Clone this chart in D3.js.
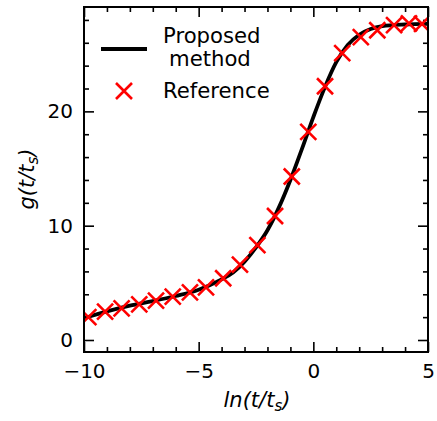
<!DOCTYPE html>
<html><head><meta charset="utf-8">
<script src="https://cdn.jsdelivr.net/npm/d3@7"></script>
<style>body{margin:0;background:#fff}svg{display:block}text{font-family:"DejaVu Sans",sans-serif}</style>
</head><body><svg id="c" width="437" height="421"></svg>
<script>
// Reference markers (x = ln(t/ts), y = g)
const refX = [-9.81,-9.08,-8.36,-7.59,-6.86,-6.13,-5.38,-4.68,-3.93,-3.20,-2.44,-1.67,-0.94,-0.22,0.51,1.26,2.07,2.79,3.52,4.17,4.74];
const refY = [2.0,2.48,2.77,3.12,3.44,3.79,4.17,4.6,5.4,6.6,8.3,10.85,14.3,18.2,22.2,25.1,26.5,27.1,27.55,27.7,27.65];
// Proposed method curve
const curveX = [-10,-9,-8,-7,-6,-5,-4,-3.5,-3,-2.5,-2,-1.5,-1,-0.5,0,0.5,1,1.5,2,2.5,3,4,5];
const curveY = [1.9,2.5,3.0,3.4,3.85,4.4,5.3,5.9,6.85,8.1,9.6,11.6,14.0,16.7,19.5,22.1,24.3,25.8,26.7,27.2,27.45,27.6,27.65];
const xTicks = [-10,-5,0,5];
const xMinor = [-9,-8,-7,-6,-4,-3,-2,-1,1,2,3,4];
const yTicks = [0,10,20];
const yMinor = [2,4,6,8,12,14,16,18,22,24,26,28];

const L=84,R=428,T=7,B=352;
const svg=d3.select("#c");
const x=d3.scaleLinear().domain([-10,5]).range([L,R]);
const y=d3.scaleLinear().domain([-1.05,29.13]).range([B,T]);
const fmt=d3.format("");

function ax(gen,tr,vals,size,pad,labels){
  const g=svg.append("g").attr("transform",tr)
   .call(gen.tickValues(vals).tickSize(size).tickPadding(pad).tickFormat(labels?fmt:""));
  g.select(".domain").remove();
  g.selectAll(".tick line").attr("stroke","#000").attr("stroke-width",1.6);
  g.selectAll("text").attr("font-size",20).attr("fill","#000").attr("font-family","DejaVu Sans");
  return g;
}
ax(d3.axisBottom(x),`translate(0,${B})`,xTicks,-10,12,true);
ax(d3.axisBottom(x),`translate(0,${B})`,xMinor,-5,12,false);
ax(d3.axisTop(x),`translate(0,${T})`,xTicks,-10,12,false);
ax(d3.axisTop(x),`translate(0,${T})`,xMinor,-5,12,false);
ax(d3.axisLeft(y),`translate(${L},0)`,yTicks,-10,11,true);
ax(d3.axisLeft(y),`translate(${L},0)`,yMinor,-5,11,false);
ax(d3.axisRight(y),`translate(${R},0)`,yTicks,-10,11,false);
ax(d3.axisRight(y),`translate(${R},0)`,yMinor,-5,11,false);

svg.append("clipPath").attr("id","cp").append("rect").attr("x",L).attr("y",T).attr("width",R-L).attr("height",B-T);

// curve
svg.append("path").datum(curveX.map((v,i)=>[v,curveY[i]]))
 .attr("d",d3.line().x(d=>x(d[0])).y(d=>y(d[1])).curve(d3.curveMonotoneX))
 .attr("fill","none").attr("stroke","#000").attr("stroke-width",3.8);

// markers
const ms=8;
const mk=svg.append("g").attr("clip-path","url(#cp)");
refX.forEach((v,i)=>{
  const cx=x(v),cy=y(refY[i]);
  mk.append("path").attr("d",`M${cx-ms},${cy-ms}L${cx+ms},${cy+ms}M${cx-ms},${cy+ms}L${cx+ms},${cy-ms}`)
   .attr("stroke","#ff0000").attr("stroke-width",2.6).attr("fill","none");
});

// frame
svg.append("rect").attr("x",L).attr("y",T).attr("width",R-L).attr("height",B-T)
 .attr("fill","none").attr("stroke","#000").attr("stroke-width",2);

// legend
svg.append("line").attr("x1",101).attr("x2",147).attr("y1",49).attr("y2",49).attr("stroke","#000").attr("stroke-width",3.8);
svg.append("text").attr("x",163).attr("y",43).attr("font-size",21.2).text("Proposed");
svg.append("text").attr("x",169).attr("y",66).attr("font-size",21.2).text("method");
svg.append("path").attr("d",`M${124-ms},${91-ms}L${124+ms},${91+ms}M${124-ms},${91+ms}L${124+ms},${91-ms}`)
 .attr("stroke","#ff0000").attr("stroke-width",2.6);
svg.append("text").attr("x",163).attr("y",98).attr("font-size",21.2).text("Reference");

// axis labels
const xl=svg.append("text").attr("x",257).attr("y",407).attr("text-anchor","middle").attr("font-size",21).attr("font-style","italic");
xl.append("tspan").text("ln(t/t");
xl.append("tspan").attr("font-size",15).attr("dy",4).text("s");
xl.append("tspan").attr("dy",-4).text(")");
const yl=svg.append("text").attr("transform","translate(34,179) rotate(-90)").attr("text-anchor","middle").attr("font-size",21).attr("font-style","italic");
yl.append("tspan").text("g(t/t");
yl.append("tspan").attr("font-size",15).attr("dy",4).text("s");
yl.append("tspan").attr("dy",-4).text(")");
</script></body></html>
